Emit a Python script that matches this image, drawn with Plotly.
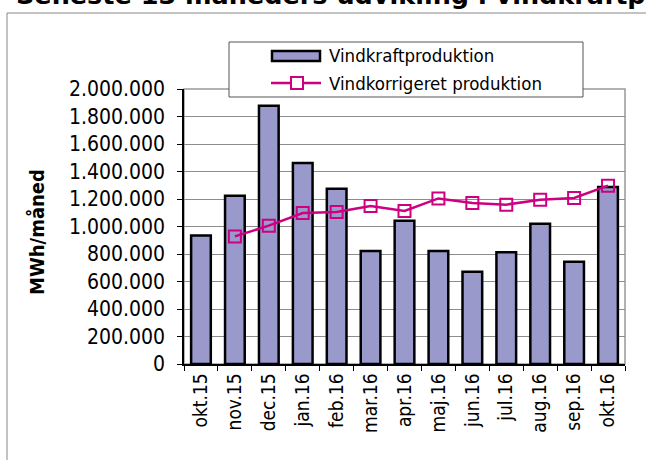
import plotly.graph_objects as go

months = ["okt.15", "nov.15", "dec.15", "jan.16", "feb.16", "mar.16", "apr.16",
          "maj.16", "jun.16", "jul.16", "aug.16", "sep.16", "okt.16"]
vindkraft = [935000, 1224000, 1879000, 1462000, 1275000, 822000, 1042000,
             822000, 671000, 812000, 1020000, 744000, 1287000]
korrigeret = [None, 928000, 1006000, 1098000, 1105000, 1149000, 1113000,
              1204000, 1171000, 1159000, 1195000, 1207000, 1297000]
y_ticks = list(range(0, 2000001, 200000))

title_text = "Seneste 13 måneders udvikling i vindkraftproduktion"
bar_name = "Vindkraftproduktion"
line_name = "Vindkorrigeret produktion"
y_title = "MWh/måned"

W, H = 646, 460
L, R, T, B = 184, 625, 89, 364
FONT = "DejaVu Sans Condensed, DejaVu Sans"
BAR_FILL = "#9999CC"
LINE_COL = "#CC0080"


def px(x):
    return (x - L) / (R - L)


def py(y):
    return (B - y) / (B - T)


fig = go.Figure()
fig.add_trace(go.Bar(x=months, y=vindkraft, name=bar_name,
                     marker=dict(color=BAR_FILL, line=dict(color="black", width=2.5)),
                     showlegend=False))
fig.add_trace(go.Scatter(x=months, y=korrigeret, name=line_name, mode="lines+markers",
                         line=dict(color=LINE_COL, width=2.5),
                         marker=dict(symbol="square-open", size=12, color=LINE_COL,
                                     line=dict(width=2, color=LINE_COL)),
                         showlegend=False))

shapes = [
    # outer chart border
    dict(type="rect", xref="paper", yref="paper", x0=px(7), x1=px(660), y0=py(13), y1=py(480),
         line=dict(color="#888888", width=1), layer="below"),
    # plot area border (gray top/right)
    dict(type="rect", xref="paper", yref="paper", x0=0, x1=1, y0=0, y1=1,
         line=dict(color="#999999", width=1.5), layer="below"),
    # legend box
    dict(type="rect", xref="paper", yref="paper", x0=px(229), x1=px(583), y0=py(97), y1=py(42),
         line=dict(color="#555555", width=1), fillcolor="white", layer="above"),
    # legend bar symbol
    dict(type="rect", xref="paper", yref="paper", x0=px(272), x1=px(320), y0=py(61), y1=py(51),
         line=dict(color="black", width=2.5), fillcolor=BAR_FILL, layer="above"),
    # legend line symbol
    dict(type="line", xref="paper", yref="paper", x0=px(271), x1=px(321), y0=py(83), y1=py(83),
         line=dict(color=LINE_COL, width=2.5), layer="above"),
    dict(type="rect", xref="paper", yref="paper", x0=px(291), x1=px(303), y0=py(89), y1=py(77),
         line=dict(color=LINE_COL, width=2), fillcolor="white", layer="above"),
]

annotations = [
    dict(text=title_text, xref="paper", yref="paper", x=px(14), y=py(12), xanchor="left",
         yanchor="bottom", showarrow=False,
         font=dict(family="DejaVu Sans", size=25.5, color="black", weight="bold")),
    dict(text=bar_name, xref="paper", yref="paper", x=px(327), y=py(56), xanchor="left",
         yanchor="middle", showarrow=False, font=dict(family=FONT, size=18.5, color="black")),
    dict(text=line_name, xref="paper", yref="paper", x=px(327), y=py(83), xanchor="left",
         yanchor="middle", showarrow=False, font=dict(family=FONT, size=18.5, color="black")),
    dict(text=y_title, xref="paper", yref="paper", x=px(37), y=py(232), xanchor="center",
         yanchor="middle", textangle=-90, showarrow=False,
         font=dict(family=FONT, size=20, color="black", weight="bold")),
]

fig.update_layout(
    width=W, height=H,
    margin=dict(l=L, r=W - R, t=T, b=H - B, pad=0, autoexpand=False),
    paper_bgcolor="white", plot_bgcolor="white",
    separators=",.",
    bargap=0.42,
    shapes=shapes, annotations=annotations,
    font=dict(family=FONT, color="black"),
    xaxis=dict(type="category", range=[-0.5, len(months) - 0.5], autorange=False,
               automargin=False, showline=True, linecolor="black", linewidth=1.5,
               ticks="outside", tickson="boundaries", ticklen=5, tickcolor="black",
               tickangle=-90, tickfont=dict(family=FONT, size=19, color="black"),
               showgrid=False),
    yaxis=dict(range=[0, 2000000], tickvals=y_ticks, tickformat=",d", automargin=False,
               showline=True, linecolor="black", linewidth=1.5,
               ticks="outside", ticklen=5, tickcolor="black", ticklabelstandoff=8,
               tickfont=dict(family=FONT, size=21, color="black"),
               showgrid=True, gridcolor="#8c8c8c", gridwidth=1,
               zeroline=False),
)

fig.write_html("out.html", config={"displayModeBar": False},
               post_script="document.body.style.margin='0';document.body.style.overflow='hidden';")
